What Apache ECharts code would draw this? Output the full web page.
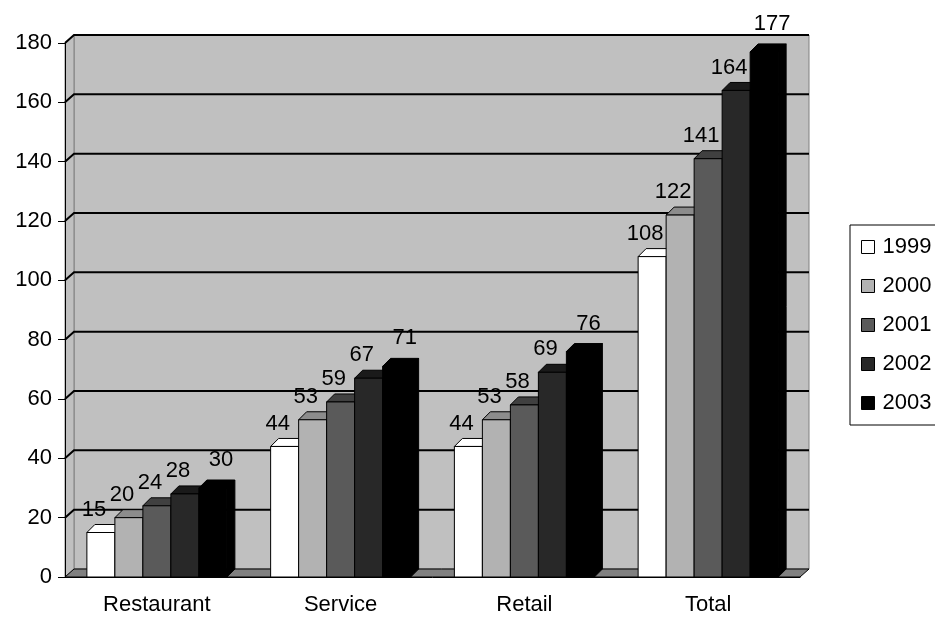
<!DOCTYPE html>
<html>
<head>
<meta charset="utf-8">
<script src="https://cdn.jsdelivr.net/npm/echarts@6/dist/echarts.min.js"></script>
<style>
  html, body { margin: 0; padding: 0; background: #fff; }
  #main { width: 935px; height: 617px; }
</style>
</head>
<body>
<div id="main"></div>
<script>
var categories = ['Restaurant', 'Service', 'Retail', 'Total'];
var years = ['1999', '2000', '2001', '2002', '2003'];
var v1999 = [15, 44, 44, 108];
var v2000 = [20, 53, 53, 122];
var v2001 = [24, 59, 58, 141];
var v2002 = [28, 67, 69, 164];
var v2003 = [30, 71, 76, 177];
var yTicks = [0, 20, 40, 60, 80, 100, 120, 140, 160, 180];

var values = [v1999, v2000, v2001, v2002, v2003];
var frontColors = ['#ffffff', '#b2b2b2', '#5a5a5a', '#282828', '#000000'];
var topColors = ['#ffffff', '#8c8c8c', '#404040', '#1a1a1a', '#000000'];
var sideColors = ['#d0d0d0', '#7a7a7a', '#383838', '#141414', '#000000'];
var FONT = '"Liberation Sans", Arial, sans-serif';
var FS = 22;
var WX = 9, WY = 8;   // wall depth
var BX = 8, BY = 8;   // bar depth
var BW = 28;          // bar width

var myChart = echarts.init(document.getElementById('main'));

function renderWalls(params, api) {
    var cs = params.coordSys;
    var l = cs.x, t = cs.y, r = cs.x + cs.width, b = cs.y + cs.height;
    return {
        type: 'group',
        children: [
            { type: 'rect', shape: { x: l + WX, y: t - WY, width: cs.width, height: cs.height },
              style: { fill: '#c0c0c0', stroke: '#808080', lineWidth: 1 } },
            { type: 'polygon', shape: { points: [[l, t], [l + WX, t - WY], [l + WX, b - WY], [l, b]] },
              style: { fill: '#c0c0c0', stroke: '#808080', lineWidth: 1 } },
            { type: 'polygon', shape: { points: [[l, b], [l + WX, b - WY], [r + WX, b - WY], [r, b]] },
              style: { fill: '#808080', stroke: '#000', lineWidth: 1 } }
        ]
    };
}

function renderGrid(params, api) {
    var cs = params.coordSys;
    var y = api.coord([0, api.value(1)])[1];
    return {
        type: 'polyline',
        shape: { points: [[cs.x, y], [cs.x + WX, y - WY], [cs.x + cs.width + WX, y - WY]] },
        style: { stroke: '#000', lineWidth: 2, fill: null }
    };
}

function makeBarRenderer(k) {
    return function (params, api) {
        var idx = api.value(0);
        var val = api.value(1);
        var topPt = api.coord([idx, val]);
        var basePt = api.coord([idx, 0]);
        var x0 = topPt[0] - BW * 2.5 + k * BW;
        var top = topPt[1], base = basePt[1];
        // labels sit a little left of the bar, the last one to the right
        var shift = k < 4 ? -7 : 8;
        var lift = k < 4 ? 8 : 13;
        return {
            type: 'group',
            children: [
                { type: 'polygon', shape: { points: [[x0 + BW, top], [x0 + BW + BX, top - BY], [x0 + BW + BX, base - BY], [x0 + BW, base]] },
                  style: { fill: sideColors[k], stroke: '#000', lineWidth: 1 } },
                { type: 'polygon', shape: { points: [[x0, top], [x0 + BX, top - BY], [x0 + BW + BX, top - BY], [x0 + BW, top]] },
                  style: { fill: topColors[k], stroke: '#000', lineWidth: 1 } },
                { type: 'rect', shape: { x: x0, y: top, width: BW, height: base - top },
                  style: { fill: frontColors[k], stroke: '#000', lineWidth: 1 } },
                { type: 'text', z2: 100, x: x0 + BW / 2 + shift, y: top - BY - lift + 4,
                  style: { text: String(val), fill: '#000', fontSize: FS, fontFamily: FONT, align: 'center', verticalAlign: 'bottom' } }
            ]
        };
    };
}

var series = [
    { type: 'custom', name: 'walls', renderItem: renderWalls, data: [[0, 0]], silent: true, z: 1 },
    { type: 'custom', name: 'grid', renderItem: renderGrid, data: yTicks.slice(1).map(function (v) { return [0, v]; }), silent: true, z: 1 }
];
years.forEach(function (yr, k) {
    series.push({
        type: 'custom',
        name: yr,
        renderItem: makeBarRenderer(k),
        data: values[k].map(function (v, i) { return [i, v]; }),
        itemStyle: { color: frontColors[k], borderColor: '#000', borderWidth: 1 },
        z: 2
    });
});

var option = {
    animation: false,
    backgroundColor: '#fff',
    grid: { left: 65, right: 135, top: 43, bottom: 40 },
    legend: {
        data: years,
        orient: 'vertical',
        left: 850,
        top: 225,
        padding: [11, 11, 11, 11],
        itemGap: 17,
        itemWidth: 13,
        itemHeight: 13,
        icon: 'rect',
        borderColor: '#000',
        borderWidth: 1,
        itemStyle: { borderColor: '#000', borderWidth: 1 },
        textStyle: { fontSize: FS, fontFamily: FONT, color: '#000', padding: [0, 0, 0, 3] }
    },
    xAxis: {
        type: 'category',
        data: categories,
        z: 10,
        axisLine: { lineStyle: { color: '#000', width: 1 } },
        axisTick: { length: 8, lineStyle: { color: '#000' } },
        axisLabel: { fontSize: FS, fontFamily: FONT, color: '#000', margin: 17 },
        splitLine: { show: false }
    },
    yAxis: {
        type: 'value',
        min: 0,
        max: 180,
        interval: 20,
        z: 10,
        axisLine: { show: true, lineStyle: { color: '#000', width: 1 } },
        axisTick: { show: true, length: 7, lineStyle: { color: '#000' } },
        axisLabel: { fontSize: FS, fontFamily: FONT, color: '#000', margin: 13 },
        splitLine: { show: false }
    },
    series: series
};

myChart.setOption(option);
</script>
</body>
</html>
